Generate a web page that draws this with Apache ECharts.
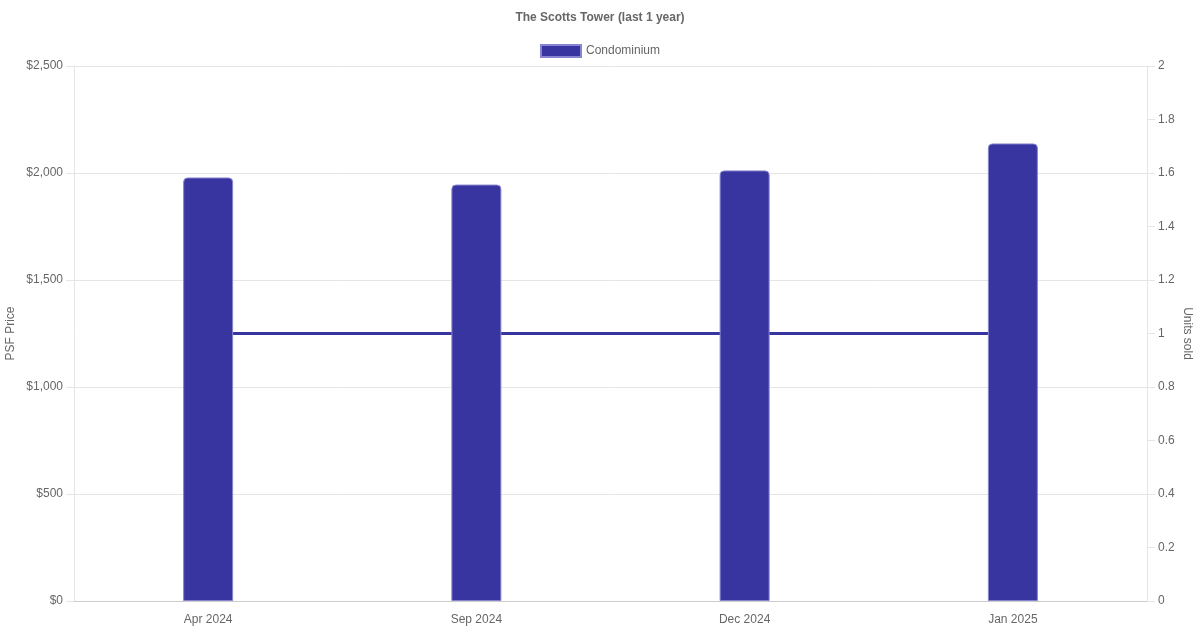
<!DOCTYPE html>
<html>
<head>
<meta charset="utf-8">
<script src="https://cdn.jsdelivr.net/npm/echarts@6/dist/echarts.min.js"></script>
<style>html,body{margin:0;padding:0;background:#fff}#c{width:1200px;height:630px}</style>
</head>
<body>
<div id="c"></div>
<script>
const categories = ["Apr 2024", "Sep 2024", "Dec 2024", "Jan 2025"];
const psfPrice = [1979, 1946, 2012, 2138];
const unitsSold = [1, 1, 1, 1];
const leftTicks = {min: 0, max: 2500, interval: 500};
const rightTicks = {min: 0, max: 2, interval: 0.2};

const font = "'Liberation Sans', Arial, sans-serif";
const chart = echarts.init(document.getElementById('c'), null, {renderer: 'canvas'});
chart.setOption({
  animation: false,
  textStyle: {fontFamily: font},
  title: {
    text: 'The Scotts Tower (last 1 year)',
    left: 'center', top: 7,
    textStyle: {fontSize: 12, fontWeight: 'bold', color: '#666', fontFamily: font}
  },
  legend: {
    data: [{name: 'Condominium', icon: 'rect'}],
    top: 39, left: 'center',
    itemWidth: 40, itemHeight: 12, itemGap: 10,
    textStyle: {fontSize: 12, color: '#666', fontFamily: font}
  },
  grid: {left: 74, right: 53, top: 66, bottom: 29, containLabel: false, outerBoundsMode: 'none'},
  xAxis: {
    type: 'category',
    data: categories,
    axisLine: {show: true, lineStyle: {color: '#cccccc'}},
    axisTick: {show: false},
    axisLabel: {color: '#666', fontSize: 12, margin: 13, fontFamily: font},
    splitLine: {show: false}
  },
  yAxis: [
    {
      type: 'value', position: 'left',
      min: leftTicks.min, max: leftTicks.max, interval: leftTicks.interval,
      name: 'PSF Price', nameLocation: 'middle', nameGap: 57, nameRotate: 90, nameMoveOverlap: false,
      nameTextStyle: {color: '#666', fontSize: 12, fontFamily: font},
      axisLine: {show: true, lineStyle: {color: '#e5e5e5'}},
      axisTick: {show: true, length: 8, lineStyle: {color: '#e5e5e5'}},
      axisLabel: {color: '#666', fontSize: 12, margin: 11, fontFamily: font,
        formatter: v => '$' + v.toLocaleString('en-US')},
      splitLine: {show: true, lineStyle: {color: '#e5e5e5'}}
    },
    {
      type: 'value', position: 'right',
      min: rightTicks.min, max: rightTicks.max, interval: rightTicks.interval,
      name: 'Units sold', nameLocation: 'middle', nameGap: 34, nameRotate: -90, nameMoveOverlap: false,
      nameTextStyle: {color: '#666', fontSize: 12, fontFamily: font},
      axisLine: {show: true, lineStyle: {color: '#e5e5e5'}},
      axisTick: {show: true, length: 8, lineStyle: {color: '#e5e5e5'}},
      axisLabel: {color: '#666', fontSize: 12, margin: 11, fontFamily: font,
        formatter: v => String(Math.round(v * 10) / 10)},
      splitLine: {show: false}
    }
  ],
  series: [
    {
      name: 'Condominium',
      type: 'bar',
      yAxisIndex: 0,
      data: psfPrice,
      barWidth: 50,
      z: 3,
      itemStyle: {color: '#3935a0', borderColor: '#8785cf', borderWidth: 1, borderRadius: [4, 4, 0, 0]}
    },
    {
      name: 'Units',
      type: 'line',
      yAxisIndex: 1,
      data: unitsSold,
      symbol: 'none',
      z: 2,
      lineStyle: {color: '#3935a0', width: 3},
      itemStyle: {color: '#3935a0'}
    }
  ]
});
</script>
</body>
</html>
